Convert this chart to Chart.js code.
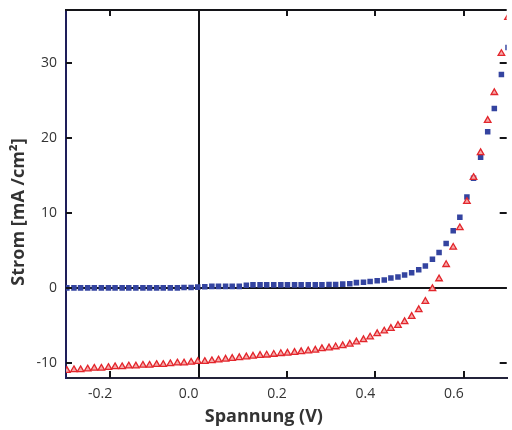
<!DOCTYPE html>
<html>
<head>
<meta charset="utf-8">
<script src="https://cdn.jsdelivr.net/npm/chart.js@4.4.1/dist/chart.umd.min.js"></script>
<style>
  html, body { margin: 0; padding: 0; background: #ffffff; }
  #wrap { width: 512px; height: 430px; position: relative; }
</style>
</head>
<body>
<div id="wrap"><canvas id="c" width="512" height="430"></canvas></div>
<script>
// Voltage values (V) of the measured points
const voltage = [
  -0.298, -0.282, -0.267, -0.251, -0.236, -0.220, -0.204, -0.189, -0.173, -0.158,
  -0.142, -0.126, -0.111, -0.095, -0.080, -0.064, -0.048, -0.033, -0.017, -0.002,
   0.014,  0.030,  0.045,  0.061,  0.076,  0.092,  0.108,  0.123,  0.139,  0.154,
   0.170,  0.186,  0.201,  0.217,  0.232,  0.248,  0.264,  0.279,  0.295,  0.310,
   0.326,  0.342,  0.357,  0.373,  0.388,  0.404,  0.420,  0.435,  0.451,  0.466,
   0.482,  0.498,  0.513,  0.529,  0.544,  0.560,  0.576,  0.591,  0.607,  0.622,
   0.638,  0.654,  0.669,  0.685,  0.700
];
// Dark current (blue squares), mA/cm²
const darkCurrent = [
   0.0,  0.0,  0.0,  0.0,  0.0,  0.0,  0.0,  0.0,  0.0,  0.0,
   0.0,  0.0,  0.0,  0.0,  0.0,  0.0,  0.0,  0.05, 0.05, 0.1,
   0.15, 0.2,  0.2,  0.2,  0.2,  0.2,  0.35, 0.4,  0.4,  0.4,
   0.4,  0.4,  0.4,  0.4,  0.4,  0.4,  0.4,  0.4,  0.45, 0.45,
   0.5,  0.55, 0.7,  0.75, 0.85, 0.95, 1.05, 1.3,  1.45, 1.7,
   2.0,  2.4,  2.9,  3.8,  4.7,  5.9,  7.6,  9.4,  12.1, 14.6,
   17.4, 20.8, 23.9, 28.4, 32.0
];
// Illuminated current (red triangles), mA/cm²
const lightCurrent = [
  -11.0, -10.9, -10.9, -10.8, -10.7, -10.7, -10.6, -10.5, -10.5, -10.4,
  -10.4, -10.3, -10.3, -10.2, -10.2, -10.1, -10.0, -10.0, -9.9,  -9.8,
  -9.8,  -9.7,  -9.6,  -9.5,  -9.4,  -9.3,  -9.2,  -9.1,  -9.0,  -8.95,
  -8.85, -8.75, -8.7,  -8.6,  -8.5,  -8.4,  -8.3,  -8.1,  -8.0,  -7.85,
  -7.7,  -7.5,  -7.2,  -6.9,  -6.55, -6.1,  -5.75, -5.4,  -5.0,  -4.5,
  -3.8,  -2.9,  -1.8,  -0.1,  1.2,   3.1,   5.4,   8.0,   11.5,  14.7,
  18.0,  22.3,  26.0,  31.2,  36.0
];
const xTicks = [-0.2, 0.0, 0.2, 0.4, 0.6];
const yTicks = [-10, 0, 10, 20, 30];

const pts = (ys) => voltage.map((v, i) => ({ x: v, y: ys[i] }));

const frame = {
  id: 'frame',
  afterDraw(chart) {
    const { ctx, chartArea: { left, right, top, bottom }, scales: { x, y } } = chart;
    ctx.save();
    ctx.strokeStyle = '#141418';
    ctx.lineWidth = 2;
    ctx.beginPath();
    ctx.moveTo(left - 1, top);
    ctx.lineTo(right, top);
    xTicks.forEach(v => {
      const px = Math.round(x.getPixelForValue(v));
      ctx.moveTo(px, bottom); ctx.lineTo(px, bottom - 7);
      ctx.moveTo(px, top); ctx.lineTo(px, top + 6);
    });
    yTicks.forEach(v => {
      const py = Math.round(y.getPixelForValue(v));
      ctx.moveTo(left, py); ctx.lineTo(left + 6, py);
      ctx.moveTo(right, py); ctx.lineTo(right - 7, py);
    });
    ctx.stroke();
    ctx.restore();
  }
};

const tickFont = { family: "'Open Sans', 'Noto Sans', sans-serif", size: 14 };
const titleFont = { family: "'Open Sans', 'Noto Sans', sans-serif", size: 18, weight: 'bold' };

new Chart(document.getElementById('c'), {
  type: 'scatter',
  data: {
    datasets: [
      {
        label: 'Beleuchtet',
        data: pts(lightCurrent),
        pointStyle: 'triangle',
        pointRadius: 3.8,
        borderWidth: 1.3,
        borderColor: '#e3262c',
        backgroundColor: '#f5a8a8'
      },
      {
        label: 'Dunkel',
        data: pts(darkCurrent),
        pointStyle: 'rect',
        pointRadius: 3.9,
        borderWidth: 0,
        borderColor: '#3444a0',
        backgroundColor: '#3444a0'
      }
    ]
  },
  options: {
    responsive: false,
    animation: false,
    devicePixelRatio: 1,
    layout: { padding: { top: 10, right: 0, left: 0, bottom: 0 } },
    plugins: { legend: { display: false }, tooltip: { enabled: false } },
    scales: {
      x: {
        type: 'linear',
        min: -0.3,
        max: 0.697,
        afterBuildTicks: (s) => { s.ticks = xTicks.map(v => ({ value: v })); },
        afterFit: (s) => { s.height = 52; s.paddingLeft = 0; s.paddingRight = 0; },
        ticks: {
          color: '#333333',
          font: tickFont,
          padding: 8,
          labelOffset: -10,
          maxRotation: 0,
          callback: (v) => Number(v).toFixed(1)
        },
        grid: {
          drawTicks: false,
          color: (c) => (c.tick && c.tick.value === 0 ? '#141418' : 'rgba(0,0,0,0)'),
          lineWidth: 2
        },
        border: { display: true, color: '#23233a', width: 2 },
        title: {
          display: true,
          text: 'Spannung (V)\u2003\u2003\u2002',
          color: '#333333',
          font: titleFont,
          padding: { top: 0, bottom: 2 }
        }
      },
      y: {
        type: 'linear',
        min: -12,
        max: 37,
        afterBuildTicks: (s) => { s.ticks = yTicks.map(v => ({ value: v })); },
        afterFit: (s) => { s.width = 66; s.paddingTop = 0; s.paddingBottom = 0; },
        ticks: {
          color: '#333333',
          font: tickFont,
          padding: 9
        },
        grid: {
          drawTicks: false,
          color: (c) => (c.tick && c.tick.value === 0 ? '#141418' : 'rgba(0,0,0,0)'),
          lineWidth: 2
        },
        border: { display: true, color: '#1e1e5a', width: 2 },
        title: {
          display: true,
          text: 'Strom [mA /cm²]\u2003\u2003',
          color: '#333333',
          font: titleFont,
          padding: { top: 8, bottom: 0 }
        }
      }
    }
  },
  plugins: [frame]
});
</script>
</body>
</html>
